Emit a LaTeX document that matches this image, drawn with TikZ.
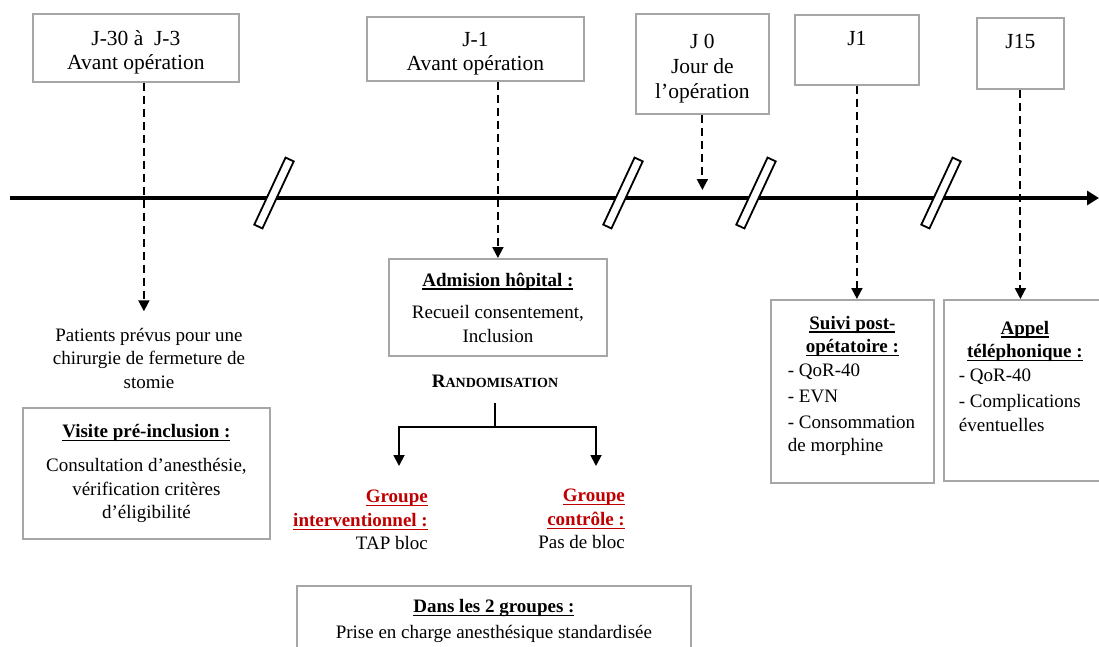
\documentclass[tikz,border=0pt]{standalone}
\usepackage{fontspec}
\setmainfont{Liberation Serif}
\usepackage{xcolor}
\usetikzlibrary{arrows.meta,calc}
\definecolor{gris}{HTML}{A6A6A6}
\definecolor{rouge}{HTML}{C00000}
\newcommand{\titre}[1]{\textbf{\setbox0\hbox{#1}\rlap{\rule[-3.5pt]{\wd0}{1.1pt}}\box0}}
\newcommand{\cale}{\rule{0pt}{24pt}}

\begin{document}
\begin{tikzpicture}[x=1pt,y=-1pt,
  every node/.style={font=\fontsize{19}{23.5}\selectfont},
  grand/.style={font=\fontsize{21.5}{23.5}\selectfont},
  boite/.style={draw=gris,line width=1.8pt,anchor=north west,inner sep=0pt},
  pointille/.style={line width=2pt,dash pattern=on 8pt off 5pt,-{Triangle[length=11pt,width=11pt]}},
  fleche/.style={line width=1.8pt,-{Triangle[length=11pt,width=11pt]}},
  coupure/.style={draw,line width=1.8pt,fill=white,minimum width=74pt,minimum height=9pt,inner sep=0pt,rotate=65}]
  \useasboundingbox (0,0) rectangle (1099,646);
  % boites du haut
  \node[boite,grand,align=center,minimum width=206pt,minimum height=68pt] (jmoins30) at (32,13) {\cale J-30 à~ J-3\\Avant opération};
  \node[boite,grand,align=center,minimum width=217pt,minimum height=64pt] (jmoins1) at (366,16) {\cale J-1\\Avant opération};
  \node[boite,grand,align=center,minimum width=133pt,minimum height=100pt,font=\fontsize{21.5}{25}\selectfont] (jzero) at (635,13) {\cale J 0\\Jour de\\l’opération};
  \node[boite,grand,align=center,minimum width=124pt,minimum height=70pt] (jun) at (794,14) {J1\\~};
  \node[boite,grand,align=center,minimum width=87pt,minimum height=71pt] (jquinze) at (976,17) {J15\\~};
  % axe du temps
  \coordinate (debut) at (10,198);
  \coordinate (fin) at (1099,198);
  \draw[line width=4pt,-{Triangle[length=12pt,width=14pt]}] (debut) -- (fin);
  \foreach \x in {272,621,754,939}
    \node[coupure] (coupure\x) at (\x+2,193) {};
  % boites du bas
  \node[align=center] (patients) at (149,358) {Patients prévus pour une\\chirurgie de fermeture de\\stomie};
  \node[boite,align=center,minimum width=247pt,minimum height=131pt] (visite) at (22,407) {\titre{Visite pré-inclusion :}\\[11pt]Consultation d’anesthésie,\\vérification critères\\d’éligibilité};
  \node[boite,align=center,minimum width=218pt,minimum height=97pt] (admission) at (388,258) {\titre{Admision hôpital :}\\[9pt]Recueil consentement,\\Inclusion};
  \node[inner sep=0pt] (rando) at (495,381) {\textbf{R{\fontsize{14}{14}\selectfont ANDOMISATION}}};
  \node[anchor=north east,align=right,inner sep=0pt] (interv) at (428,490) {\textcolor{rouge}{\titre{Groupe}}\\\textcolor{rouge}{\titre{interventionnel :}}\\TAP bloc};
  \node[anchor=north east,align=right,inner sep=0pt] (controle) at (625,489) {\textcolor{rouge}{\titre{Groupe}}\\\textcolor{rouge}{\titre{contrôle :}}\\Pas de bloc};
  \node[boite,align=center,minimum width=394pt,minimum height=70pt] (groupes) at (296,585) {\titre{Dans les 2 groupes :}\\[3pt]Prise en charge anesthésique standardisée};
  \node[boite,minimum width=163pt,minimum height=183pt] (suivi) at (770,299) {\parbox[c][183pt][t]{163pt}{\vspace*{16pt}\centering\titre{Suivi post-}\\\titre{opétatoire :}\par\raggedright\leftskip=17pt - QoR-40\\[3pt]- EVN\\[2pt]- Consommation\\de morphine}};
  \node[boite,minimum width=162pt,minimum height=181pt] (appel) at (943,299) {\parbox[c][181pt][t]{162pt}{\vspace*{21pt}\centering\titre{Appel}\\\titre{téléphonique :}\par\raggedright\leftskip=15pt - QoR-40\\[3pt]- Complications\\éventuelles}};
  % fleches
  \draw[pointille,shorten >=13pt] ([xshift=8pt]jmoins30.south) -- ([xshift=8pt]jmoins30.south |- patients.north);
  \draw[pointille] (jmoins1.south -| admission.north) -- (admission.north);
  \coordinate (jzerofin) at (700,190);
  \draw[pointille] (jzero.south) -- (jzero.south |- jzerofin);
  \draw[pointille] (jun.south) -- (jun.south |- suivi.north);
  \draw[pointille] (jquinze.south) -- (jquinze.south |- appel.north);
  \coordinate (fourche) at (495,427);
  \coordinate (versA) at (399,466);
  \coordinate (versB) at (596,466);
  \draw[line width=1.8pt] ([yshift=-16pt]rando.south) -- (fourche);
  \draw[fleche] (fourche) -| (versA);
  \draw[fleche] (fourche) -| (versB);
\end{tikzpicture}
\end{document}
